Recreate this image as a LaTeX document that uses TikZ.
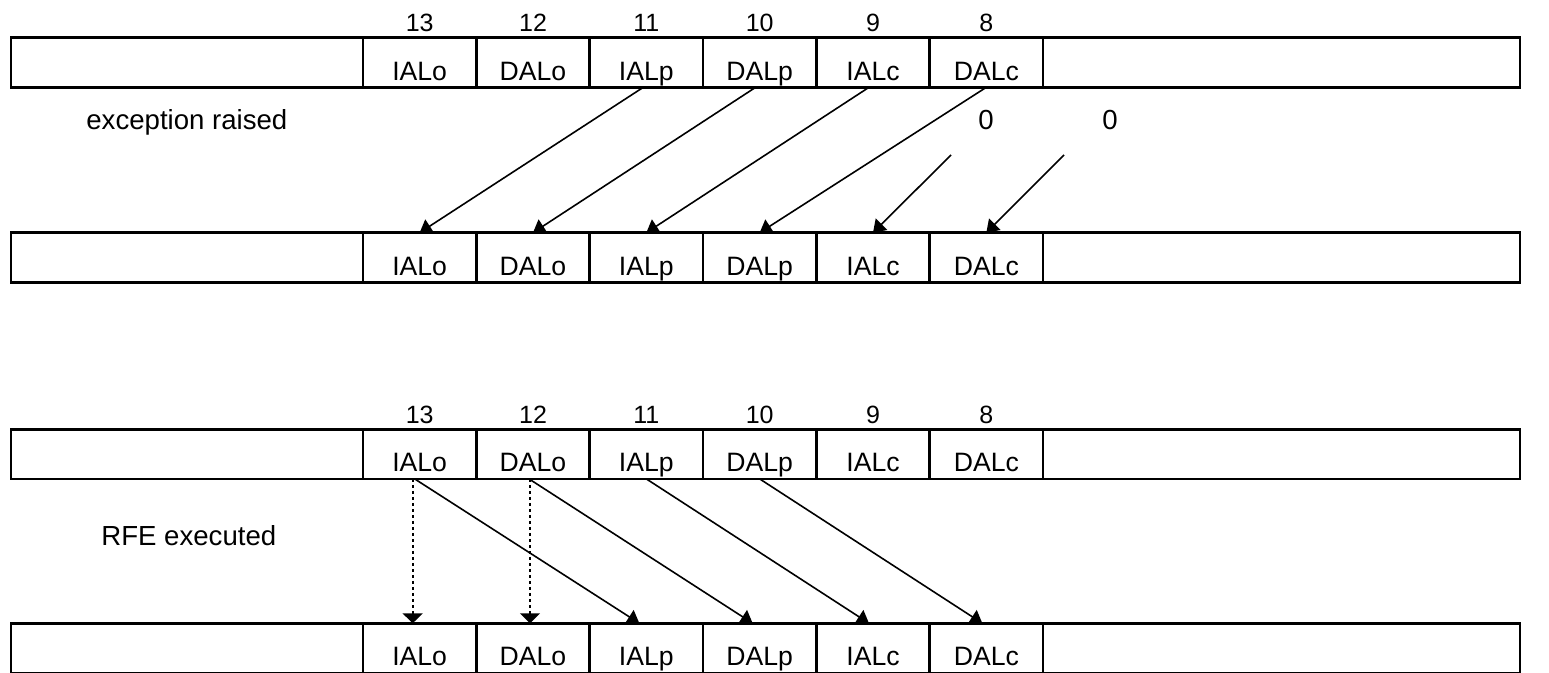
\documentclass[tikz,border=0pt]{standalone}
\usepackage{fontspec}
\setmainfont{Liberation Sans}
\usetikzlibrary{arrows.meta}
\begin{document}
\begin{tikzpicture}[x=0.5pt,y=-0.5pt,
  reg/.style={draw, line width=1.3pt, inner sep=0pt, outer sep=0pt, minimum height=24.8pt, anchor=north west},
  lab/.style={font=\fontsize{13.3}{15}\selectfont, inner sep=0pt, anchor=base},
  num/.style={font=\fontsize{12.5}{14}\selectfont, inner sep=0pt, anchor=base},
  txt/.style={font=\fontsize{13.8}{16}\selectfont, inner sep=0pt, anchor=base west},
  zero/.style={font=\fontsize{13.8}{16}\selectfont, inner sep=0pt},
  arr/.style={line width=0.8pt, -{Triangle[width=8pt,length=6pt]}},
  dotarr/.style={line width=0.9pt, dash pattern=on 1.5pt off 1.5pt, -{Triangle[width=10pt,length=5pt]}}
]
\useasboundingbox (0,0) rectangle (1549,673);
% registers
\foreach \r/\t in {A/37.7, B/232.7, C/429.3, D/623.3} {
  \node[reg, minimum width=176pt] (\r0) at (11,\t) {};
  \foreach \i/\l in {1/IALo, 2/DALo, 3/IALp, 4/DALp, 5/IALc, 6/DALc} {
    \node[reg, minimum width=56.67pt] (\r\i) at ({363+(\i-1)*113.333},\t) {};
    \node[lab] (\r\i l) at ([yshift=3.6pt]\r\i.south) {\l};
  }
  \node[reg, minimum width=238.5pt] (\r7) at (1043,\t) {};
}
% bit numbers
\foreach \r in {A, C} {
  \foreach \i/\n in {1/13, 2/12, 3/11, 4/10, 5/9, 6/8} {
    \node[num] (\r\i n) at ([yshift=3pt]\r\i.north) {\n};
  }
}
% texts
\node[txt] (exc) at (86,130) {exception raised};
\node[txt] (rfe) at (101,546) {RFE executed};
\node[zero] (zero1) at (986,120) {0};
\node[zero] (zero2) at (1110,120) {0};
% exception raised arrows
\draw[arr] ([xshift=-1.5pt]A3.south) -- (B1.north);
\draw[arr] ([xshift=-2pt]A4.south) -- (B2.north);
\draw[arr] ([xshift=-2pt]A5.south) -- (B3.north);
\draw[arr] (A6.south) -- (B4.north);
\coordinate (z1) at (951,155);
\coordinate (z2) at (1064,155);
\draw[arr] (z1) -- (B5.north);
\draw[arr] (z2) -- (B6.north);
% RFE executed arrows
\draw[dotarr] ([xshift=-3.5pt]C1.south) -- ([xshift=-3.5pt]D1.north);
\draw[dotarr] ([xshift=-1.5pt]C2.south) -- ([xshift=-1.5pt]D2.north);
\draw[arr] ([xshift=-2.5pt]C1.south) -- ([xshift=-3.5pt]D3.north);
\draw[arr] ([xshift=-2pt]C2.south) -- ([xshift=-3.5pt]D4.north);
\draw[arr] (C3.south) -- ([xshift=-2pt]D5.north);
\draw[arr] (C4.south) -- ([xshift=-2pt]D6.north);
\end{tikzpicture}
\end{document}
